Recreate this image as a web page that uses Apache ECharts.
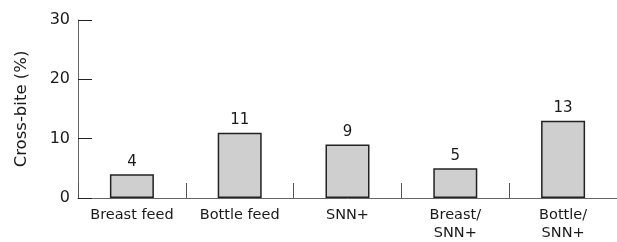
<!DOCTYPE html>
<html><head><meta charset="utf-8">
<script src="https://cdn.jsdelivr.net/npm/echarts@6/dist/echarts.min.js"></script>
<style>html,body{margin:0;padding:0;background:#fff}#c{width:617px;height:242px}</style>
</head><body><div id="c"></div>
<script>
const categories = ['Breast feed', 'Bottle feed', 'SNN+', 'Breast/\nSNN+', 'Bottle/\nSNN+'];
const values = [4, 11, 9, 5, 13];
const yTicks = [0, 10, 20, 30];

const FONT = 'DejaVu Sans';
const chart = echarts.init(document.getElementById('c'), null, {renderer: 'canvas'});
chart.setOption({
  animation: false,
  grid: {left: 78, top: 20, width: 541.5, height: 178, containLabel: false},
  xAxis: {
    type: 'category', data: categories, boundaryGap: true,
    axisLine: {lineStyle: {color: '#666', width: 1}},
    axisTick: {show: true, inside: true, length: 15, interval: 0, lineStyle: {color: '#555'}},
    axisLabel: {color: '#1a1a1a', fontFamily: FONT, fontSize: 14.5, margin: 8, lineHeight: 18, interval: 0}
  },
  yAxis: {
    type: 'value', min: yTicks[0], max: yTicks[yTicks.length - 1], interval: 10,
    name: 'Cross-bite (%)', nameLocation: 'middle', nameGap: 48, nameRotate: 90,
    nameTextStyle: {color: '#1a1a1a', fontFamily: FONT, fontSize: 16.5},
    axisLine: {show: true, lineStyle: {color: '#666', width: 1}},
    axisTick: {show: true, inside: true, length: 14, lineStyle: {color: '#222'}},
    axisLabel: {color: '#1a1a1a', fontFamily: FONT, fontSize: 16, margin: 8},
    splitLine: {show: false}
  },
  series: [{
    type: 'bar', data: values, barWidth: 44,
    itemStyle: {color: '#cfcfcf', borderColor: '#222', borderWidth: 1.5},
    label: {show: true, position: 'top', distance: 5, color: '#1a1a1a', fontFamily: FONT, fontSize: 15}
  }]
});
</script></body></html>
